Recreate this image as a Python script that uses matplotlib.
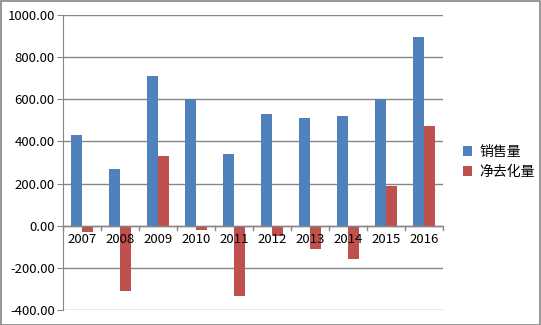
import numpy as np
import matplotlib.pyplot as plt

plt.rcParams['font.family'] = ['Noto Sans CJK SC', 'DejaVu Sans']

years = ["2007", "2008", "2009", "2010", "2011", "2012", "2013", "2014", "2015", "2016"]
sales = [432, 270, 711, 600, 341, 531, 512, 521, 600, 896]
net = [-32, -311, 332, -22, -335, -47, -112, -160, 190, 474]

W, H = 541, 325
fig = plt.figure(figsize=(W / 100, H / 100), dpi=100)
ax = fig.add_axes([63 / W, 1 - 310 / H, 380 / W, 295 / H])

x = np.arange(len(years))
bw = 0.28
ax.bar(x - bw / 2, sales, bw, color="#4F81BD", label="销售量", zorder=3)
ax.bar(x + bw / 2, net, bw, color="#C0504D", label="净去化量", zorder=3)

ax.set_xlim(-0.5, len(years) - 0.5)
ax.set_ylim(-400, 1000)
ax.set_yticks(np.arange(-400, 1001, 200))
ax.set_yticklabels(["%.2f" % v for v in np.arange(-400, 1001, 200)], fontsize=9.5)
ax.yaxis.grid(True, color="#868686", linewidth=1, zorder=0)
ax.tick_params(axis="y", length=4, color="#868686", pad=2)

# category axis sits at zero
ax.set_xticks([])
ax.axhline(0, color="#868686", linewidth=1, zorder=4)
for b in np.arange(-0.5, len(years), 1.0):
    ax.plot([b, b], [0, -22], color="#868686", linewidth=1, zorder=4, clip_on=False)
for i, yr in enumerate(years):
    ax.text(i, -36, yr, ha="center", va="top", fontsize=9.5, zorder=5)

for s in ["top", "right", "bottom"]:
    ax.spines[s].set_visible(False)
ax.spines["left"].set_color("#868686")

leg = fig.legend(loc="center left", bbox_to_anchor=(450 / W, 1 - 162 / H), frameon=False,
                 fontsize=10, handlelength=0.7, handleheight=0.7, handletextpad=0.5, labelspacing=0.45)

fig.patches.append(plt.Rectangle((0.5 / W, 0.5 / H), (W - 1.5) / W, (H - 1.5) / H,
                                 transform=fig.transFigure, fill=False, edgecolor="#868686", linewidth=1.2))

fig.savefig("out.png", dpi=100)
